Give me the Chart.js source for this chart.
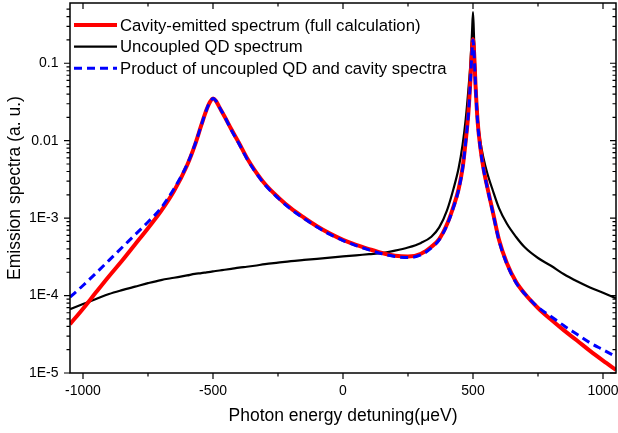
<!DOCTYPE html>
<html>
<head>
<meta charset="utf-8">
<script src="https://cdn.jsdelivr.net/npm/chart.js@4.4.1/dist/chart.umd.min.js"></script>
<style>
html,body{margin:0;padding:0;background:#fff;}
#wrap{width:618px;height:433px;}
</style>
</head>
<body>
<div id="wrap"><canvas id="c" width="618" height="433"></canvas></div>
<script>
// Photon energy detuning (µeV)
const detuning = [-1050,-1000,-950,-900,-850,-800,-750,-700,-650,-600,-570,-545,-525,-510,-500,-490,-475,-455,-430,-400,-370,-340,-300,-250,-200,-150,-100,-50,0,50,100,150,200,250,300,340,370,400,425,445,460,472,482,490,496,500,504,510,518,528,540,555,575,600,630,665,700,750,800,850,900,950,1000,1050];

// Cavity-emitted spectrum (full calculation)
const cavityFull = [4.27e-5,6.76e-5,1.10e-4,1.778e-4,2.818e-4,4.571e-4,7.413e-4,1.230e-3,2.239e-3,4.786e-3,8.710e-3,1.585e-2,2.512e-2,3.236e-2,3.50e-2,3.311e-2,2.692e-2,2.042e-2,1.413e-2,9.333e-3,6.026e-3,4.169e-3,2.754e-3,1.862e-3,1.334e-3,1.012e-3,7.852e-4,6.310e-4,5.248e-4,4.519e-4,3.981e-4,3.548e-4,3.273e-4,3.199e-4,3.467e-4,4.266e-4,5.370e-4,8.318e-4,1.413e-3,2.399e-3,4.467e-3,1.0e-2,2.239e-2,6.026e-2,0.1413,0.2042,0.1413,5.012e-2,1.738e-2,8.318e-3,4.467e-3,2.512e-3,1.259e-3,5.248e-4,2.630e-4,1.514e-4,1.047e-4,6.918e-5,4.898e-5,3.548e-5,2.630e-5,1.928e-5,1.445e-5,1.096e-5];

// Uncoupled QD spectrum
const uncoupledQD = [6.683e-5,7.762e-5,9.016e-5,1.047e-4,1.175e-4,1.303e-4,1.445e-4,1.585e-4,1.698e-4,1.820e-4,1.905e-4,1.950e-4,1.995e-4,2.028e-4,2.051e-4,2.075e-4,2.109e-4,2.153e-4,2.213e-4,2.291e-4,2.355e-4,2.427e-4,2.541e-4,2.661e-4,2.786e-4,2.884e-4,2.985e-4,3.090e-4,3.199e-4,3.311e-4,3.428e-4,3.548e-4,3.802e-4,4.169e-4,4.786e-4,5.754e-4,7.586e-4,1.259e-3,2.399e-3,4.467e-3,8.913e-3,1.905e-2,4.467e-2,0.1,0.2399,0.4571,0.2138,6.310e-2,2.0e-2,1.0e-2,6.026e-3,3.802e-3,2.344e-3,1.349e-3,8.511e-4,5.754e-4,4.169e-4,3.055e-4,2.427e-4,1.884e-4,1.531e-4,1.274e-4,1.084e-4,9.226e-5];

// Product of uncoupled QD and cavity spectra
const productSpectra = [9.550e-5,1.349e-4,1.950e-4,2.851e-4,4.169e-4,6.095e-4,8.913e-4,1.349e-3,2.399e-3,4.898e-3,8.810e-3,1.585e-2,2.512e-2,3.236e-2,3.50e-2,3.311e-2,2.692e-2,2.042e-2,1.380e-2,9.120e-3,5.888e-3,4.074e-3,2.692e-3,1.820e-3,1.303e-3,9.886e-4,7.674e-4,6.166e-4,5.129e-4,4.416e-4,3.890e-4,3.467e-4,3.199e-4,3.090e-4,3.350e-4,4.121e-4,5.248e-4,8.128e-4,1.380e-3,2.344e-3,4.365e-3,9.772e-3,2.188e-2,5.888e-2,0.1380,0.1995,0.1380,4.898e-2,1.698e-2,8.128e-3,4.365e-3,2.455e-3,1.230e-3,5.129e-4,2.570e-4,1.479e-4,1.047e-4,7.079e-5,5.370e-5,4.074e-5,3.162e-5,2.455e-5,1.995e-5,1.622e-5];

const seriesNames = ['Cavity-emitted spectrum (full calculation)','Uncoupled QD spectrum','Product of uncoupled QD and cavity spectra'];

const xTicks = [-1000,-500,0,500,1000];
const xMinorTicks = [-750,-250,250,750];
const yTicks = [1e-5,1e-4,1e-3,0.01,0.1];
const yTickLabels = ['1E-5','1E-4','1E-3','0.01','0.1'];
const xTitle = 'Photon energy detuning(\u03BCeV)';
const yTitle = 'Emission spectra (a. u.)';

const FONT = '"Liberation Sans", Arial, Helvetica, sans-serif';

function pts(ys){ return detuning.map((x,i)=>({x:x, y:ys[i]})); }

const framePlugin = {
  id: 'frameTicks',
  afterDatasetsDraw(chart){
    const {ctx, chartArea:a, scales:{x, y}} = chart;
    ctx.save();
    ctx.strokeStyle = '#000';
    ctx.lineWidth = 1.2;
    ctx.beginPath();
    const MAJ = 6, MIN = 3.5;
    const xt = (v,len)=>{ const p = x.getPixelForValue(v);
      ctx.moveTo(p, a.bottom); ctx.lineTo(p, a.bottom + len);
      ctx.moveTo(p, a.top); ctx.lineTo(p, a.top + len); };
    const yt = (v,len)=>{ const p = y.getPixelForValue(v);
      ctx.moveTo(a.left, p); ctx.lineTo(a.left - len, p);
      ctx.moveTo(a.right, p); ctx.lineTo(a.right - len, p); };
    xTicks.forEach(v=>xt(v,MAJ));
    xMinorTicks.forEach(v=>xt(v,MIN));
    yTicks.forEach(v=>yt(v,MAJ));
    yTicks.forEach(d=>{ for(let k=2;k<=9;k++){ const v=d*k; if(v<=y.max) yt(v,MIN); } });
    ctx.stroke();
    ctx.lineWidth = 1.5;
    ctx.strokeRect(a.left, a.top, a.right-a.left, a.bottom-a.top);

    // legend
    const ds = chart.data.datasets;
    const rowsY = [25, 46.7, 68.3];
    const x0 = 74, x1 = 117, tx = 120;
    ctx.font = '16.7px ' + FONT;
    ctx.textBaseline = 'middle';
    ctx.textAlign = 'left';
    ds.forEach((d,i)=>{
      ctx.beginPath();
      ctx.strokeStyle = d.borderColor;
      ctx.lineWidth = d.borderWidth;
      ctx.setLineDash(d.borderDash || []);
      ctx.moveTo(x0, rowsY[i]); ctx.lineTo(x1, rowsY[i]);
      ctx.stroke();
      ctx.setLineDash([]);
      ctx.fillStyle = '#000';
      ctx.fillText(d.label, tx, rowsY[i]+1);
    });
    ctx.restore();
  }
};

new Chart(document.getElementById('c'), {
  type: 'line',
  data: {
    datasets: [
      {label: seriesNames[0], data: pts(cavityFull), borderColor:'#FF0000', borderWidth:4, pointRadius:0, cubicInterpolationMode:'monotone', clip:0, order:1, fill:false},
      {label: seriesNames[1], data: pts(uncoupledQD), borderColor:'#000000', borderWidth:2.2, pointRadius:0, cubicInterpolationMode:'monotone', clip:0, order:2, fill:false},
      {label: seriesNames[2], data: pts(productSpectra), borderColor:'#0000FF', borderWidth:3, borderDash:[8,5], pointRadius:0, cubicInterpolationMode:'monotone', clip:0, order:0, fill:false}
    ]
  },
  options: {
    responsive:false,
    devicePixelRatio:1,
    animation:false,
    events:[],
    layout:{padding:{top:3,right:2,left:0,bottom:0}},
    plugins:{legend:{display:false}, tooltip:{enabled:false}},
    scales:{
      x:{
        type:'linear', min:-1050, max:1050,
        afterBuildTicks:(s)=>{ s.ticks = xTicks.map(v=>({value:v})); },
        afterFit:(s)=>{ s.height = 60; s.paddingLeft = 0; s.paddingRight = 0; s.paddingTop = 0; s.paddingBottom = 0; },
        grid:{display:false, drawTicks:false},
        border:{display:false},
        ticks:{font:{family:FONT,size:14}, color:'#000', padding:10, maxRotation:0, autoSkip:false, callback:(v)=>String(v)},
        title:{display:true, text:xTitle, color:'#000', font:{family:FONT,size:17.5}, padding:{top:0,bottom:6}}
      },
      y:{
        type:'logarithmic', min:1e-5, max:0.6,
        afterBuildTicks:(s)=>{ s.ticks = yTicks.map(v=>({value:v})); },
        afterFit:(s)=>{ s.width = 70; s.paddingTop = 0; s.paddingBottom = 0; s.paddingLeft = 0; s.paddingRight = 0; },
        grid:{display:false, drawTicks:false},
        border:{display:false},
        ticks:{font:{family:FONT,size:14}, color:'#000', padding:11.5, autoSkip:false,
          callback:(v)=>{ const i = yTicks.findIndex(t=>Math.abs(t-v)/t<1e-6); return i>=0 ? yTickLabels[i] : ''; }},
        title:{display:true, text:yTitle, color:'#000', font:{family:FONT,size:17.5}, padding:{top:5,bottom:0}}
      }
    }
  },
  plugins:[framePlugin]
});
</script>
</body>
</html>
